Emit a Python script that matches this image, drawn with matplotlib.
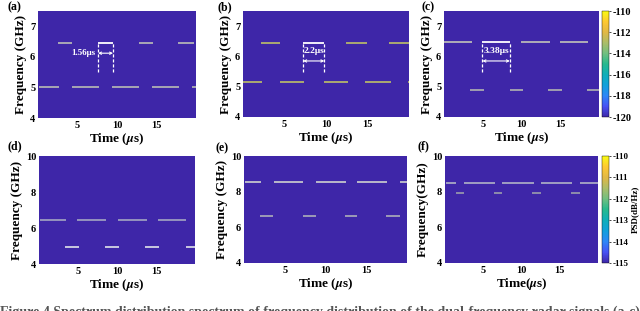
import matplotlib
matplotlib.use("Agg")
import numpy as np
import matplotlib.pyplot as plt
from matplotlib.colors import LinearSegmentedColormap

plt.rcParams["font.family"] = "Liberation Serif"
plt.rcParams["font.weight"] = "bold"
plt.rcParams["axes.labelweight"] = "bold"
plt.rcParams["mathtext.fontset"] = "stix"
plt.rcParams["axes.unicode_minus"] = False

# parula-like colormap
PARULA = [
    (0.2422, 0.1504, 0.6603), (0.2810, 0.3228, 0.9579), (0.1786, 0.5289, 0.9682),
    (0.0689, 0.6279, 0.8584), (0.0590, 0.6838, 0.7254), (0.1540, 0.7247, 0.5560),
    (0.4420, 0.7481, 0.5033), (0.6720, 0.7411, 0.4129), (0.8832, 0.7222, 0.2709),
    (0.9956, 0.7862, 0.1959), (0.9769, 0.9839, 0.0805),
]
parula = LinearSegmentedColormap.from_list("parula", PARULA)

# ---- data (frequency in GHz, segments as (start, end) in us) ----
a_freqs = [6.45, 5.03]
a_high = [(2.5, 4.35), (7.6, 9.5), (12.75, 14.5), (17.75, 19.7)]
a_low = [(0.1, 2.65), (4.3, 7.7), (9.4, 12.8), (14.4, 17.8), (19.5, 20.0)]

b_freqs = [6.43, 5.15]
b_high = [(2.2, 4.5), (7.25, 9.8), (12.45, 14.9), (17.6, 20.0)]
b_low = [(0.05, 2.3), (4.4, 7.35), (9.7, 12.7), (14.75, 17.85), (19.9, 20.0)]

c_freqs = [6.46, 4.9]
c_high = [(0.0, 3.65), (4.96, 8.5), (9.96, 13.7), (14.96, 18.6)]
c_low = [(3.4, 5.2), (8.5, 10.2), (13.4, 15.2), (18.4, 20.0)]

d_freqs = [6.42, 4.93]
d_high = [(0.1, 3.4), (4.9, 8.6), (10.1, 13.8), (15.2, 18.9)]
d_low = [(3.35, 5.1), (8.5, 10.2), (13.6, 15.4), (18.8, 20.0)]

e_freqs = [8.57, 6.62]
e_high = [(0.1, 2.1), (3.7, 7.3), (8.8, 12.5), (13.9, 17.5), (19.1, 20.0)]
e_low = [(2.0, 3.6), (7.2, 8.8), (12.4, 13.9), (17.4, 19.1)]

f_freqs = [8.5, 7.92]
f_high = [(0.1, 1.5), (2.5, 6.5), (7.5, 11.6), (12.5, 16.6), (17.6, 20.0)]
f_low = [(1.5, 2.5), (6.4, 7.5), (11.4, 12.6), (16.5, 17.6)]

# marked pulse: (t0, t1), label
a_mark = (7.6, 9.5, "1.56μs")
b_mark = (7.25, 9.8, "2.2μs")
c_mark = (4.96, 8.5, "3.38μs")

top_yticks = [4, 5, 6, 7]
bot_yticks = [4, 6, 8, 10]
xticks = [5, 10, 15]
top_cbar_ticks = [-120, -118, -116, -114, -112, -110]
bot_cbar_ticks = [-115, -114, -113, -112, -111, -110]

caption = ("Figure 4 Spectrum distribution spectrum of frequency distribution of the "
           "dual-frequency radar signals (a-c) Diff")

W, H = 640, 311
fig = plt.figure(figsize=(6.4, 3.11), dpi=100)


def px(l, r, t, b):
    return [l / W, 1 - b / H, (r - l) / W, (b - t) / H]


panels = [
    dict(rect=px(38, 196, 11, 118), tag="(a)", tagpos=(7, 7), freqs=a_freqs, high=a_high,
         low=a_low, ylim=(4, 7.5), yticks=top_yticks, hc="#b2b2b6", lc="#b0b0b4", mark=a_mark,
         xlabel="Time ($\\mu$s)", ylabel="Frequency (GHz)", vmin=-120, vmax=-110),
    dict(rect=px(243, 409, 11, 117), tag="(b)", tagpos=(217, 7), freqs=b_freqs, high=b_high,
         low=b_low, ylim=(4, 7.5), yticks=top_yticks, hc="#b4b46c", lc="#b4b46c", mark=b_mark,
         xlabel="Time ($\\mu$s)", ylabel="Frequency (GHz)", vmin=-120, vmax=-110),
    dict(rect=px(444, 599, 11, 117), tag="(c)", tagpos=(421, 7), freqs=c_freqs, high=c_high,
         low=c_low, ylim=(4, 7.5), yticks=top_yticks, hc="#b8b8b8", lc="#a8a8b0", mark=c_mark,
         xlabel="Time ($\\mu$s)", ylabel="Frequency (GHz)", vmin=-120, vmax=-110,
         cbar=px(602, 609, 11, 117), cticks=top_cbar_ticks, clabel=None, csize=7.5),
    dict(rect=px(39, 195, 156, 264), tag="(d)", tagpos=(7, 146), freqs=d_freqs, high=d_high,
         low=d_low, ylim=(4, 10), yticks=bot_yticks, hc="#9c9cc0", lc="#d4d4e4", mark=None,
         xlabel="Time ($\\mu$s)", ylabel="Frequency (GHz)", vmin=-115, vmax=-110),
    dict(rect=px(244, 407, 156, 263), tag="(e)", tagpos=(216, 148), freqs=e_freqs, high=e_high,
         low=e_low, ylim=(4, 10), yticks=bot_yticks, hc="#c4c4cc", lc="#a4a4b8", mark=None,
         xlabel="Time ($\\mu$s)", ylabel="Frequency (GHz)", vmin=-115, vmax=-110),
    dict(rect=px(445, 598, 156, 263), tag="(f)", tagpos=(418, 146), freqs=f_freqs, high=f_high,
         low=f_low, ylim=(4, 10), yticks=bot_yticks, hc="#a8a8c4", lc="#9494ac", mark=None,
         xlabel="Time($\\mu$s)", ylabel="Frequency(GHz)", vmin=-115, vmax=-110,
         cbar=px(602, 609, 156, 263), cticks=bot_cbar_ticks, clabel="PSD(dB/Hz)", csize=6.5),
]

for p in panels:
    ax = fig.add_axes(p["rect"])
    y0, y1 = p["ylim"]
    bg = np.full((1, 1), p["vmin"])
    mesh = ax.pcolormesh([0, 20], [y0, y1], bg, cmap=parula,
                         vmin=p["vmin"], vmax=p["vmax"], shading="flat")
    hf, lf = p["freqs"]
    for s, e in p["high"]:
        col = p["hc"]
        if p["mark"] is not None and abs(s - p["mark"][0]) < 0.05:
            col = "white"
        ax.hlines(hf, s, e, colors=col, lw=1.3)
    for s, e in p["low"]:
        ax.hlines(lf, s, e, colors=p["lc"], lw=1.3)

    if p["mark"] is not None:
        t0, t1, txt = p["mark"]
        ybot = 5.5
        ax.vlines([t0, t1], ybot, hf, colors="white", lw=0.9, linestyles=(0, (2.5, 1.5)))
        if p["tag"] == "(a)":
            ya = 6.12
            ax.text(t0 - 0.3, ya, txt, color="white", fontsize=6.5, ha="right", va="center")
        else:
            ya = 5.85
            ax.text((t0 + t1) / 2, 6.17, txt, color="white", fontsize=6.8,
                    ha="center", va="center")
        ax.annotate("", xy=(t1, ya), xytext=(t0, ya),
                    arrowprops=dict(arrowstyle="<->", color="white", lw=0.8,
                                    mutation_scale=4, shrinkA=0, shrinkB=0))

    ax.set_xlim(0, 20)
    ax.set_ylim(y0, y1)
    ax.set_xticks(xticks)
    ax.set_yticks(p["yticks"])
    ax.tick_params(length=0, labelsize=7.5, pad=2)
    for sp in ax.spines.values():
        sp.set_visible(False)
    ax.set_xlabel(p["xlabel"], fontsize=9.5, labelpad=1)
    ax.set_ylabel(p["ylabel"], fontsize=9.5, labelpad=2)
    tx, ty = p["tagpos"]
    fig.text(tx / W, 1 - ty / H, p["tag"], fontsize=8.5, ha="left", va="center")

    if "cbar" in p:
        cax = fig.add_axes(p["cbar"])
        cb = fig.colorbar(mesh, cax=cax, ticks=p["cticks"])
        cb.ax.set_yticklabels([str(t) for t in p["cticks"]])
        cb.ax.tick_params(labelsize=p["csize"], length=1.5, width=0.5, pad=1)
        cb.outline.set_linewidth(0.3)
        if p["clabel"]:
            cb.set_label(p["clabel"], fontsize=6.5, labelpad=2)

# caption of the source figure, cut off at the bottom edge as in the original
fig.text(0.0, 1 - 306 / 311, caption, fontsize=10, color="#555555", ha="left", va="top")

fig.savefig("out.png", dpi=100)
